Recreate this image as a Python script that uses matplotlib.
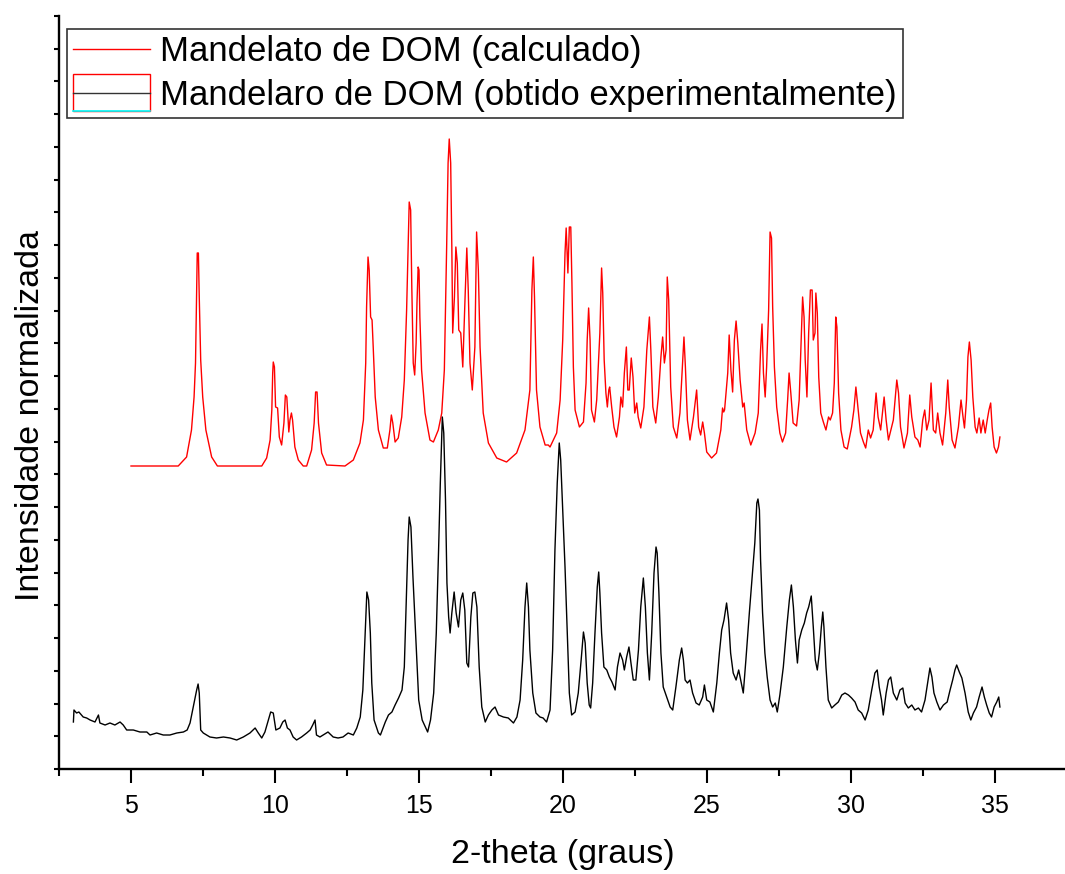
import numpy as np
import matplotlib
matplotlib.use("Agg")
import matplotlib.pyplot as plt
from matplotlib.lines import Line2D
from matplotlib.patches import Rectangle
from matplotlib.ticker import MultipleLocator

plt.rcParams['font.family'] = ['Liberation Sans', 'DejaVu Sans']

# padrão calculado (2-theta em graus, intensidade em unidades arbitrárias)
calc_2theta = [
    5.00, 6.64, 6.93, 7.10, 7.19, 7.24, 7.27, 7.30, 7.34, 7.37, 7.42, 7.49, 7.60, 7.80, 8.00,
    9.54, 9.71, 9.83, 9.89, 9.92, 9.94, 9.98, 10.02, 10.09, 10.15, 10.23, 10.31, 10.36, 10.41,
    10.48, 10.52, 10.57, 10.61, 10.69, 10.81, 10.98, 11.10, 11.27, 11.36, 11.41, 11.46, 11.51,
    11.62, 11.79, 12.43, 12.72, 12.95, 13.07, 13.15, 13.18, 13.23, 13.27, 13.32, 13.37, 13.41,
    13.48, 13.59, 13.76, 13.90, 13.99, 14.04, 14.09, 14.17, 14.28, 14.40, 14.49, 14.57, 14.63,
    14.66, 14.71, 14.75, 14.80, 14.85, 14.90, 14.93, 14.97, 15.00, 15.03, 15.09, 15.21, 15.38,
    15.50, 15.67, 15.79, 15.88, 15.96, 16.01, 16.05, 16.10, 16.14, 16.17, 16.23, 16.28, 16.33,
    16.38, 16.45, 16.52, 16.60, 16.66, 16.71, 16.77, 16.85, 16.94, 17.00, 17.06, 17.12, 17.23,
    17.41, 17.70, 18.04, 18.39, 18.68, 18.85, 18.92, 18.97, 19.01, 19.08, 19.20, 19.38, 19.49,
    19.55, 19.78, 19.90, 19.99, 20.07, 20.11, 20.17, 20.22, 20.27, 20.31, 20.36, 20.42, 20.57,
    20.71, 20.80, 20.84, 20.89, 20.94, 20.99, 21.09, 21.17, 21.28, 21.34, 21.38, 21.43, 21.49,
    21.54, 21.59, 21.62, 21.69, 21.77, 21.86, 21.96, 22.01, 22.07, 22.13, 22.20, 22.25, 22.30,
    22.37, 22.43, 22.49, 22.56, 22.61, 22.70, 22.81, 22.91, 23.00, 23.05, 23.12, 23.22, 23.31,
    23.40, 23.46, 23.52, 23.58, 23.62, 23.67, 23.74, 23.83, 23.95, 24.06, 24.16, 24.20, 24.25,
    24.32, 24.41, 24.53, 24.64, 24.71, 24.78, 24.85, 24.91, 24.99, 25.16, 25.33, 25.48, 25.54,
    25.58, 25.61, 25.72, 25.77, 25.83, 25.89, 25.95, 26.01, 26.07, 26.15, 26.24, 26.29, 26.38,
    26.52, 26.67, 26.78, 26.86, 26.91, 26.96, 27.02, 27.07, 27.14, 27.19, 27.24, 27.28, 27.34,
    27.42, 27.53, 27.62, 27.73, 27.80, 27.85, 27.91, 27.99, 28.11, 28.20, 28.26, 28.32, 28.37,
    28.41, 28.47, 28.53, 28.59, 28.65, 28.69, 28.75, 28.78, 28.83, 28.88, 28.95, 29.04, 29.13,
    29.22, 29.28, 29.36, 29.42, 29.47, 29.51, 29.57, 29.65, 29.76, 29.87, 30.02, 30.10, 30.17,
    30.24, 30.33, 30.43, 30.51, 30.60, 30.68, 30.77, 30.87, 30.94, 31.03, 31.15, 31.22, 31.30,
    31.41, 31.47, 31.59, 31.65, 31.72, 31.84, 31.96, 32.04, 32.11, 32.22, 32.32, 32.40, 32.49,
    32.56, 32.63, 32.71, 32.78, 32.86, 32.94, 33.01, 33.09, 33.18, 33.29, 33.36, 33.41, 33.51,
    33.61, 33.73, 33.82, 33.89, 33.94, 34.01, 34.06, 34.11, 34.17, 34.23, 34.31, 34.37, 34.45,
    34.51, 34.59, 34.66, 34.73, 34.79, 34.85, 34.90, 34.97, 35.05, 35.12, 35.17,
]
calc_int = [
    303, 303, 312, 339, 372, 406, 462, 516, 516, 472, 409, 372, 339, 312, 303,
    303, 311, 329, 359, 396, 407, 402, 362, 361, 332, 324, 346, 374, 372,
    337, 349, 356, 349, 322, 309, 303, 303, 319, 346, 377, 377, 346,
    316, 304, 303, 309, 326, 349, 406, 462, 512, 499, 452, 449, 422,
    372, 339, 321, 321, 339, 354, 346, 327, 331, 352, 389, 459, 532,
    567, 559, 482, 406, 394, 426, 466, 502, 499, 452, 399, 356, 329,
    327, 339, 356, 399, 522, 606, 630, 606, 522, 436, 472, 522, 506,
    439, 436, 402, 472, 521, 479, 406, 379, 422, 537, 499, 422, 356,
    326, 311, 307, 316, 339, 379, 479, 512, 472, 379, 342, 324, 324,
    322, 336, 369, 429, 516, 541, 496, 542, 542, 486, 402, 359, 342,
    347, 386, 429, 461, 429, 359, 347, 369, 436, 501, 476, 409, 376,
    362, 379, 382, 362, 342, 332, 352, 372, 362, 396, 422, 379, 379,
    411, 392, 356, 366, 352, 341, 362, 419, 452, 419, 362, 346, 372,
    412, 432, 406, 419, 492, 469, 382, 342, 331, 356, 409, 432, 402,
    349, 329, 352, 379, 342, 334, 347, 336, 317, 311, 316, 339, 361,
    357, 359, 396, 434, 399, 377, 429, 448, 426, 389, 362, 366, 339,
    324, 336, 356, 419, 445, 396, 372, 402, 459, 537, 531, 462, 402,
    362, 336, 327, 336, 369, 396, 376, 346, 343, 369, 419, 472, 452,
    409, 372, 436, 479, 479, 429, 436, 476, 456, 392, 356, 347, 339,
    352, 349, 356, 386, 452, 442, 376, 339, 322, 320, 342, 359, 382,
    362, 336, 327, 321, 339, 331, 339, 376, 352, 339, 372, 349, 329,
    342, 349, 389, 376, 342, 321, 336, 374, 352, 332, 329, 322, 349,
    359, 339, 349, 386, 339, 336, 356, 336, 324, 356, 389, 362, 329,
    321, 342, 369, 352, 341, 369, 412, 427, 409, 372, 342, 336, 351,
    336, 349, 336, 349, 359, 366, 342, 322, 316, 322, 332,
]

# padrão experimental
exp_2theta = [
    3.00, 3.02, 3.11, 3.19, 3.34, 3.46, 3.58, 3.75, 3.87, 3.92, 4.10, 4.27, 4.44, 4.62, 4.73,
    4.85, 5.08, 5.31, 5.55, 5.66, 5.89, 6.12, 6.35, 6.59, 6.82, 6.95, 7.05, 7.16, 7.28, 7.33,
    7.37, 7.42, 7.51, 7.74, 7.97, 8.21, 8.44, 8.67, 8.90, 9.13, 9.31, 9.42, 9.54, 9.65, 9.77,
    9.85, 9.94, 10.03, 10.17, 10.27, 10.35, 10.43, 10.52, 10.63, 10.75, 10.92, 11.10, 11.22,
    11.31, 11.39, 11.44, 11.56, 11.67, 11.84, 12.02, 12.19, 12.36, 12.54, 12.72, 12.84, 12.96,
    13.05, 13.13, 13.19, 13.25, 13.31, 13.36, 13.44, 13.59, 13.66, 13.75, 13.83, 13.94, 14.06,
    14.17, 14.29, 14.41, 14.49, 14.56, 14.62, 14.66, 14.72, 14.79, 14.88, 14.99, 15.11, 15.22,
    15.30, 15.40, 15.51, 15.60, 15.68, 15.74, 15.81, 15.86, 15.92, 15.97, 16.03, 16.08, 16.14,
    16.22, 16.29, 16.37, 16.45, 16.52, 16.59, 16.66, 16.72, 16.80, 16.87, 16.94, 17.01, 17.09,
    17.18, 17.30, 17.41, 17.53, 17.64, 17.76, 17.93, 18.10, 18.28, 18.40, 18.51, 18.60, 18.68,
    18.74, 18.80, 18.85, 18.95, 19.06, 19.20, 19.31, 19.43, 19.55, 19.64, 19.72, 19.80, 19.87,
    19.92, 19.99, 20.07, 20.15, 20.22, 20.30, 20.42, 20.53, 20.63, 20.71, 20.77, 20.84, 20.91,
    20.96, 21.03, 21.11, 21.19, 21.24, 21.28, 21.34, 21.42, 21.52, 21.61, 21.70, 21.81, 21.89,
    21.98, 22.07, 22.13, 22.21, 22.29, 22.36, 22.44, 22.53, 22.62, 22.70, 22.79, 22.86, 22.93,
    23.00, 23.08, 23.16, 23.23, 23.27, 23.33, 23.40, 23.48, 23.60, 23.72, 23.81, 23.92, 24.04,
    24.12, 24.18, 24.24, 24.32, 24.41, 24.50, 24.62, 24.73, 24.85, 24.91, 24.99, 25.10, 25.22,
    25.34, 25.43, 25.51, 25.59, 25.68, 25.75, 25.82, 25.91, 26.01, 26.10, 26.17, 26.26, 26.35,
    26.47, 26.56, 26.66, 26.73, 26.77, 26.82, 26.86, 26.93, 27.01, 27.09, 27.19, 27.28, 27.37,
    27.44, 27.53, 27.65, 27.77, 27.86, 27.93, 28.00, 28.07, 28.14, 28.20, 28.29, 28.38, 28.46,
    28.53, 28.62, 28.69, 28.76, 28.83, 28.90, 28.97, 29.02, 29.06, 29.13, 29.21, 29.33, 29.44,
    29.56, 29.68, 29.79, 29.91, 30.02, 30.14, 30.25, 30.37, 30.49, 30.60, 30.72, 30.83, 30.91,
    30.98, 31.06, 31.12, 31.22, 31.30, 31.38, 31.47, 31.59, 31.70, 31.80, 31.88, 31.99, 32.11,
    32.22, 32.34, 32.45, 32.57, 32.66, 32.74, 32.81, 32.88, 32.98, 33.09, 33.21, 33.34, 33.44,
    33.53, 33.61, 33.67, 33.76, 33.85, 33.96, 34.07, 34.16, 34.25, 34.36, 34.45, 34.55, 34.63,
    34.71, 34.80, 34.88, 34.97, 35.06, 35.13, 35.17,
]
exp_int = [
    47, 59, 56, 57, 52, 51, 49, 47, 54, 46, 44, 46, 44, 47, 44,
    39, 39, 37, 37, 34, 36, 34, 34, 36, 37, 39, 46, 62, 79, 85,
    76, 39, 36, 32, 31, 32, 31, 29, 32, 36, 41, 36, 31, 37, 49,
    57, 56, 39, 41, 47, 49, 41, 39, 32, 29, 32, 36, 39,
    44, 49, 34, 32, 34, 37, 32, 31, 32, 36, 34, 41, 52,
    79, 136, 177, 169, 136, 86, 49, 36, 34, 41, 47, 54, 57,
    64, 71, 79, 102, 169, 229, 252, 242, 192, 136, 69, 49, 42,
    37, 49, 76, 136, 219, 286, 352, 336, 269, 186, 152, 136, 156,
    177, 156, 142, 169, 176, 159, 106, 102, 152, 176, 177, 162, 102,
    62, 47, 54, 59, 62, 54, 52, 51, 46, 52, 69, 109, 162,
    186, 162, 119, 76, 56, 52, 51, 47, 59, 119, 219, 286, 326,
    309, 259, 202, 136, 76, 54, 57, 76, 109, 137, 126, 86, 64,
    61, 86, 136, 182, 197, 176, 136, 102, 99, 92, 87, 79, 102,
    116, 109, 99, 112, 122, 106, 89, 89, 119, 162, 191, 162, 116,
    89, 136, 196, 222, 216, 176, 116, 82, 72, 62, 59, 82, 109,
    121, 109, 89, 86, 89, 76, 66, 64, 72, 84, 69, 67, 57,
    86, 116, 139, 149, 166, 149, 116, 96, 89, 99, 89, 76, 109,
    156, 189, 226, 266, 270, 259, 209, 156, 116, 92, 69, 62, 66,
    57, 74, 102, 142, 169, 184, 162, 129, 106, 129, 139, 146, 156,
    162, 173, 142, 109, 99, 116, 142, 157, 142, 102, 69, 61, 64,
    67, 74, 76, 74, 71, 67, 59, 56, 49, 59, 79, 96, 99,
    82, 69, 54, 76, 89, 92, 76, 69, 79, 81, 66, 61, 64,
    59, 61, 57, 69, 86, 101, 92, 76, 67, 59, 64, 67, 79,
    89, 99, 104, 97, 91, 76, 57, 49, 56, 62, 72, 82, 72,
    64, 56, 52, 62, 67, 72, 62,
]

marcas_x = [5, 10, 15, 20, 25, 30, 35]
legenda = ['Mandelato de DOM (calculado)',
           'Mandelaro de DOM (obtido experimentalmente)']


# símbolo da legenda do padrão experimental (caixa vermelha com linha preta)
class HandlerCaixa:
    def legend_artist(self, legend, orig_handle, fontsize, handlebox):
        w = handlebox.width
        h = handlebox.height
        yc = h / 2.0 - handlebox.ydescent
        meia = 13.3
        caixa = Rectangle((-handlebox.xdescent, yc - meia), w, 2 * meia,
                          fill=False, edgecolor='red', lw=1.0,
                          transform=handlebox.get_transform())
        linha = Line2D([0, w], [yc, yc], color='#333333', lw=1.0,
                       transform=handlebox.get_transform())
        base = Line2D([0, w], [yc - meia, yc - meia], color='cyan', lw=1.2,
                      transform=handlebox.get_transform())
        handlebox.add_artist(caixa)
        handlebox.add_artist(linha)
        handlebox.add_artist(base)
        return caixa


fig = plt.figure(figsize=(10.65, 8.74), dpi=100)
ax = fig.add_axes([59 / 1065, 105 / 874, 1008 / 1065, 753 / 874])

ax.plot(calc_2theta, calc_int, color='red', lw=1.0)
ax.plot(exp_2theta, exp_int, color='black', lw=1.0)

ax.set_xlim(2.5, 37.5)
ax.set_ylim(0, 753)

ax.spines['top'].set_visible(False)
ax.spines['right'].set_visible(False)
ax.spines['left'].set_linewidth(1.7)
ax.spines['bottom'].set_linewidth(1.7)

ax.set_xticks(marcas_x)
ax.xaxis.set_minor_locator(MultipleLocator(2.5))
ax.set_yticks(np.linspace(0, 753, 24))
ax.set_yticklabels([])
ax.tick_params(axis='x', which='major', direction='out', length=10, width=1.5,
               labelsize=18, pad=8)
ax.tick_params(axis='x', which='minor', direction='out', length=5, width=1.5)
ax.tick_params(axis='y', direction='out', length=3.6, width=1.5)

ax.set_xlabel('2-theta (graus)', fontsize=24.5, labelpad=15)
ax.set_ylabel('Intensidade normalizada', fontsize=24.5)
ax.yaxis.set_label_coords(-0.013, 0.47)

h_calc = Line2D([], [], color='red', lw=1.0)
h_exp = Line2D([], [], color='black', lw=1.0)
leg = ax.legend([h_calc, h_exp], legenda, handler_map={h_exp: HandlerCaixa()},
                loc='upper left', bbox_to_anchor=(8 / 1008, 740 / 753),
                borderaxespad=0, fontsize=25, frameon=True, fancybox=False,
                framealpha=1, edgecolor='#333333', handlelength=2.2,
                handletextpad=0.3, borderpad=0.18, labelspacing=0.3)
leg.get_frame().set_linewidth(1.2)

fig.savefig('out.png', dpi=100)
